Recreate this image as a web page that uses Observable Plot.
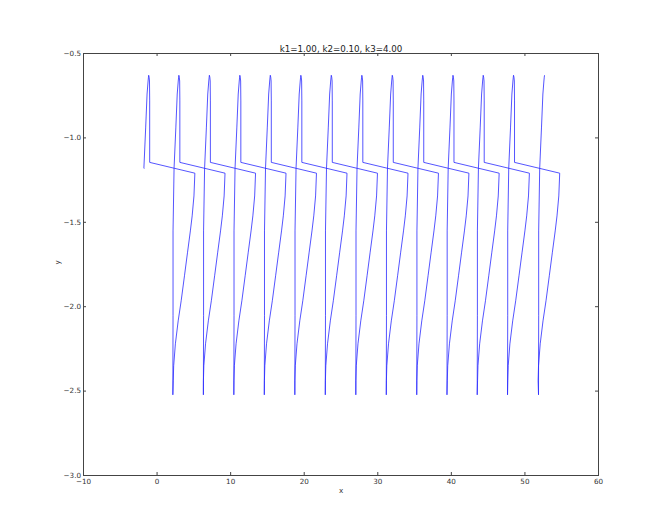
<!DOCTYPE html>
<html><head><meta charset="utf-8">
<script src="https://cdn.jsdelivr.net/npm/d3@7"></script>
<script src="https://cdn.jsdelivr.net/npm/@observablehq/plot@0.6"></script>
<style>body{margin:0;background:#fff}</style>
</head><body><div id="chart"></div>
<script>
const title = "k1=1.00, k2=0.10, k3=4.00";
const xLabel = "x";
const yLabel = "y";
const xTicks = [-10, 0, 10, 20, 30, 40, 50, 60];
const yTicks = [-3.0, -2.5, -2.0, -1.5, -1.0, -0.5];
// peaks of each cycle (last entry = end of the trace)
const peakX = [-1.14, 2.96, 7.11, 11.25, 15.39, 19.54, 23.68, 27.83, 31.97, 36.11, 40.22, 44.33, 48.45, 52.66];
const peakY = -0.629;
const endY = -0.631;
const startX = -1.77, startY = -1.18;
// rising branch, x offset from the peak, and y
const riseDX = [-0.815, -0.79, -0.79, -0.65, -0.41, -0.22, -0.08, -0.03];
const riseY  = [-2.522, -2.054, -1.551, -1.178, -0.941, -0.740, -0.663, -0.640];
// falling branch, jump and slow descent, x offset from the peak, and y
const fallDX = [0.06, 0.11, 0.136, 0.136, 6.277, 6.155, 5.910, 5.666, 5.272, 4.864, 4.416, 4.008, 3.628, 3.397, 3.34];
const fallY  = [-0.640, -0.663, -0.781, -1.145, -1.209, -1.344, -1.462, -1.551, -1.681, -1.817, -1.965, -2.084, -2.220, -2.350, -2.439];

const pts = [{x: startX, y: startY}];
peakX.forEach((p, i) => {
  riseDX.forEach((dx, j) => { if (i > 0 || riseY[j] > startY) pts.push({x: p + dx, y: riseY[j]}); });
  pts.push({x: p, y: i === peakX.length - 1 ? endY : peakY});
  if (i < peakX.length - 1) fallDX.forEach((dx, j) => pts.push({x: p + dx, y: fallY[j]}));
});

const W = 664, H = 528, mL = 83, mR = 66, mT = 53, mB = 53;
const ph = H - mT - mB, pw = W - mL - mR;
const fmtX = d => String(d).replace("-", "\u2212");
const fmtY = d => d.toFixed(1).replace("-", "\u2212");
const axisColor = "#444";

const chart = Plot.plot({
  width: W, height: H,
  marginLeft: mL, marginRight: mR, marginTop: mT, marginBottom: mB,
  style: {fontFamily: "DejaVu Sans", fontSize: "7.2px", background: "#fff", color: "#333"},
  x: {domain: [-10, 60], label: null},
  y: {domain: [-3, -0.5], label: null},
  marks: [
    Plot.line(pts, {x: "x", y: "y", stroke: "#2a2aff", strokeWidth: 0.8}),
    Plot.frame({stroke: axisColor, strokeWidth: 1}),
    Plot.ruleX(xTicks, {x: d => d, insetTop: ph - 3, stroke: axisColor}),
    Plot.ruleX(xTicks, {x: d => d, insetBottom: ph - 3, stroke: axisColor}),
    Plot.ruleY(yTicks, {y: d => d, insetRight: pw - 3, stroke: axisColor}),
    Plot.ruleY(yTicks, {y: d => d, insetLeft: pw - 3, stroke: axisColor}),
    Plot.axisX(xTicks, {tickSize: 0, tickPadding: 3, tickFormat: fmtX, label: null}),
    Plot.axisY(yTicks, {tickSize: 0, tickPadding: 2.5, tickFormat: fmtY, label: null}),
    Plot.text([title], {frameAnchor: "top", dy: -8, text: d => d, fontSize: 8.7, fill: "#222"}),
    Plot.text([xLabel], {frameAnchor: "bottom", dy: 17.5, text: d => d, fontSize: 7.2}),
    Plot.text([yLabel], {frameAnchor: "left", dx: -26, text: d => d, fontSize: 7.2, rotate: -90})
  ]
});
document.getElementById("chart").appendChild(chart);
</script>
</body></html>
